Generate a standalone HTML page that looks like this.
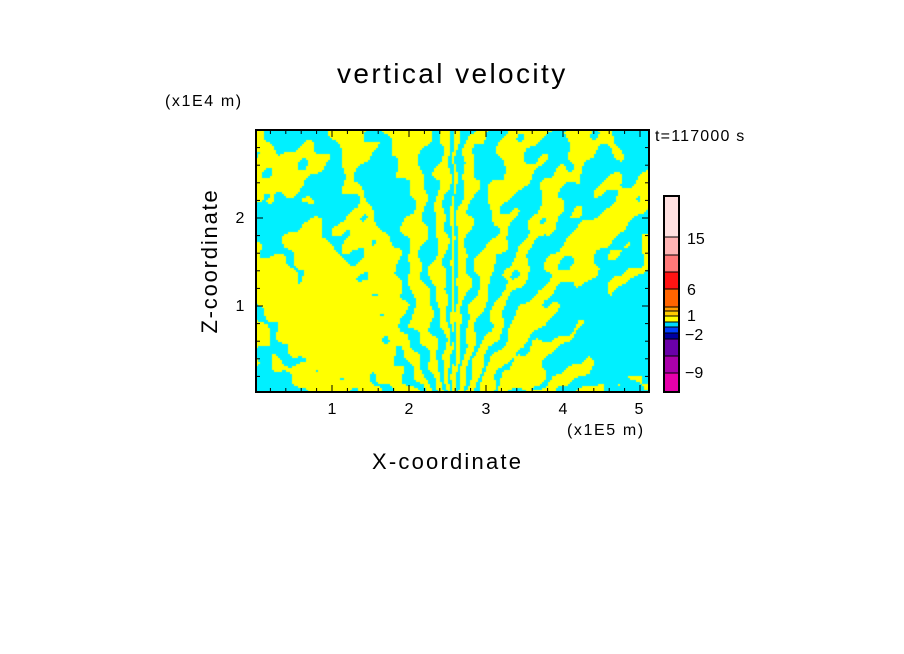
<!DOCTYPE html>
<html><head><meta charset="utf-8">
<style>
body{margin:0;background:#fff;width:904px;height:654px;overflow:hidden;position:relative;font-family:"Liberation Sans",sans-serif;}
.t{position:absolute;white-space:nowrap;color:#000;}
canvas{position:absolute;left:256px;top:130px;}
</style></head><body>
<div class="t" style="left:337px;top:58px;font-size:28px;letter-spacing:2.4px;">vertical velocity</div>
<div class="t" style="left:165px;top:93px;font-size:16px;letter-spacing:1.6px;">(x1E4 m)</div>
<div class="t" style="left:655px;top:128px;font-size:16px;letter-spacing:1.2px;">t=117000 s</div>
<div class="t" style="left:567px;top:422px;font-size:16px;letter-spacing:1.6px;">(x1E5 m)</div>
<div class="t" style="left:372px;top:449px;font-size:22px;letter-spacing:2.2px;">X-coordinate</div>
<div class="t" style="left:210px;top:261px;font-size:22px;letter-spacing:1.8px;transform:translate(-50%,-50%) rotate(-90deg);">Z-coordinate</div>
<canvas id="c" width="393" height="262"></canvas>
<svg width="904" height="654" style="position:absolute;left:0;top:0" xmlns="http://www.w3.org/2000/svg">
<g id="ticks" stroke="#000" stroke-width="1"></g>
<rect x="256" y="130" width="393" height="262" fill="none" stroke="#000" stroke-width="2"/>
<g font-family="Liberation Sans, sans-serif" font-size="16">
<text x="332" y="414" text-anchor="middle">1</text>
<text x="409" y="414" text-anchor="middle">2</text>
<text x="486" y="414" text-anchor="middle">3</text>
<text x="563" y="414" text-anchor="middle">4</text>
<text x="639" y="414" text-anchor="middle">5</text>
<text x="240" y="311" text-anchor="middle">1</text>
<text x="240" y="223" text-anchor="middle">2</text>
</g>
<g stroke="none">
<rect x="664" y="196" width="15" height="41" fill="#ffe0e0"/>
<rect x="664" y="237" width="15" height="18" fill="#ffb4b4"/>
<rect x="664" y="255" width="15" height="17" fill="#ff7878"/>
<rect x="664" y="272" width="15" height="17" fill="#ff1414"/>
<rect x="664" y="289" width="15" height="18" fill="#ff6400"/>
<rect x="664" y="307" width="15" height="4" fill="#ffa000"/>
<rect x="664" y="311" width="15" height="5" fill="#ffcc00"/>
<rect x="664" y="316" width="15" height="6" fill="#ffff00"/>
<rect x="664" y="322" width="15" height="5" fill="#00d8ff"/>
<rect x="664" y="327" width="15" height="6" fill="#0040ff"/>
<rect x="664" y="333" width="15" height="6" fill="#0000a0"/>
<rect x="664" y="339" width="15" height="17" fill="#6a00a8"/>
<rect x="664" y="356" width="15" height="17" fill="#aa00aa"/>
<rect x="664" y="373" width="15" height="19" fill="#e600aa"/>
</g>
<g stroke="#000" stroke-width="1">
<line x1="664" y1="237" x2="679" y2="237"/><line x1="664" y1="255" x2="679" y2="255"/>
<line x1="664" y1="272" x2="679" y2="272"/><line x1="664" y1="289" x2="679" y2="289"/>
<line x1="664" y1="307" x2="679" y2="307"/><line x1="664" y1="311" x2="679" y2="311"/>
<line x1="664" y1="316" x2="679" y2="316"/><line x1="664" y1="322" x2="679" y2="322"/>
<line x1="664" y1="327" x2="679" y2="327"/><line x1="664" y1="333" x2="679" y2="333"/>
<line x1="664" y1="339" x2="679" y2="339"/><line x1="664" y1="356" x2="679" y2="356"/>
<line x1="664" y1="373" x2="679" y2="373"/>
</g>
<rect x="664" y="196" width="15" height="196" fill="none" stroke="#000" stroke-width="2"/>
<g font-family="Liberation Sans, sans-serif" font-size="16">
<text x="687" y="244">15</text>
<text x="687" y="295">6</text>
<text x="687" y="321">1</text>
<text x="685" y="340">−2</text>
<text x="685" y="378">−9</text>
</g>
</svg>
<script>
(function(){
var g=document.getElementById('ticks'),s='';
var x0=255,dx=77;
for(var i=1;i<=25;i++){var x=x0+dx*i/5;if(x>648)break;var L=(i%5==0)?7:4;
s+='<line x1="'+x+'" y1="392" x2="'+x+'" y2="'+(392-L)+'"/><line x1="'+x+'" y1="130" x2="'+x+'" y2="'+(130+L)+'"/>';}
var y0=394,dy=88;
for(var j=1;j<=15;j++){var y=y0-dy*j/5;if(y<131)break;var L=(j%5==0)?7:4;
s+='<line x1="256" y1="'+y+'" x2="'+(256+L)+'" y2="'+y+'"/><line x1="649" y1="'+y+'" x2="'+(649-L)+'" y2="'+y+'"/>';}
g.innerHTML=s;
var c=document.getElementById('c').getContext('2d');
var W=393,H=262;
function gs(u,v,cu,cv,su,sv){var a=(u-cu)/su,b=(v-cv)/sv;return Math.exp(-(a*a+b*b));}
for(var py=0;py<H;py+=2){for(var px=0;px<W;px+=2){
var u=px/W,v=py/H;
var cx=0.5,dxx=u-cx,dyy=1.2-v;
var th=Math.atan2(dxx,dyy);
var ph=Math.sign(th)*Math.pow(Math.abs(th),0.55);
var n=Math.sin(u*23+v*7)*0.5+Math.sin(u*41-v*19)*0.4+Math.sin(u*9+v*31)*0.4+Math.sin(u*67+v*53)*0.35+Math.sin(u*97-v*29)*0.25;
var val=Math.sin(ph*40+n*1.6+v*4)+0.3*Math.sin(u*80+v*60);
val+=2.4*gs(u,v,0.2,0.75,0.15,0.25);
val-=1.8*gs(u,v,0.04,0.95,0.08,0.12);
val-=1.6*gs(u,v,0.92,0.78,0.12,0.25);
val+=1.2*gs(u,v,0.66,0.9,0.1,0.14);
val-=1.2*gs(u,v,0.12,0.3,0.18,0.08);
val+=0.6*gs(u,v,0.1,0.1,0.1,0.06);
val+=0.8*gs(u,v,0.83,0.35,0.08,0.1);
c.fillStyle=val>0?'#ffff00':'#00f0ff';
c.fillRect(px,py,2,2);
}}
})();
</script>
</body></html>
